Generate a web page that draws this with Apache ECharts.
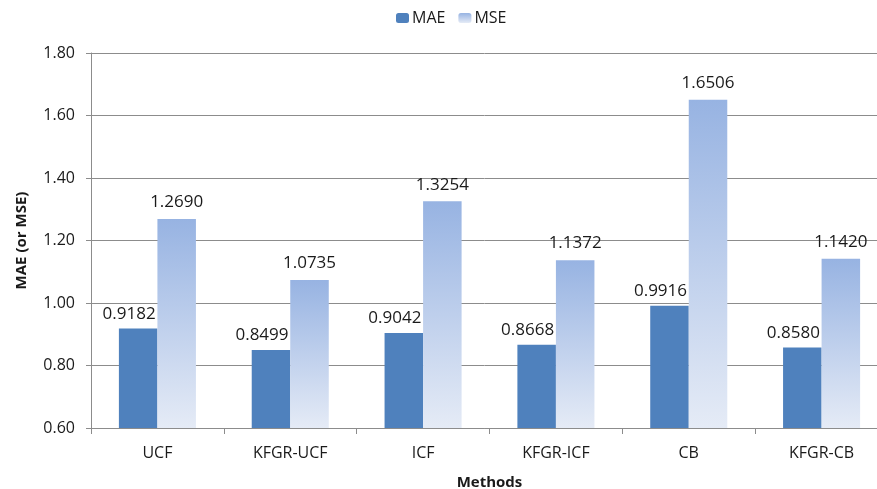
<!DOCTYPE html>
<html>
<head>
<meta charset="utf-8">
<script src="https://cdn.jsdelivr.net/npm/echarts@6/dist/echarts.min.js"></script>
<style>
  html, body { margin: 0; padding: 0; background: #fff; }
  #chart { width: 877px; height: 489px; }
</style>
</head>
<body>
<div id="chart"></div>
<script>
// Methods compared and their error scores
const methods = ['UCF', 'KFGR-UCF', 'ICF', 'KFGR-ICF', 'CB', 'KFGR-CB'];
const maeValues = [0.9182, 0.8499, 0.9042, 0.8668, 0.9916, 0.8580];
const mseValues = [1.2690, 1.0735, 1.3254, 1.1372, 1.6506, 1.1420];
const yTicks = { min: 0.6, max: 1.8, step: 0.2 };

const font = '"Open Sans", "Liberation Sans", sans-serif';
const chart = echarts.init(document.getElementById('chart'), null, { renderer: 'canvas' });

function valueLabel(offsetX, distance) {
  return {
    show: true,
    position: 'top',
    distance: distance,
    offset: [offsetX, 0],
    fontFamily: font,
    fontSize: 17,
    color: '#1a1a1a',
    formatter: p => p.value.toFixed(4)
  };
}

chart.setOption({
  animation: false,
  textStyle: { fontFamily: font },
  legend: {
    top: 5,
    left: 391,
    itemWidth: 13,
    itemHeight: 10,
    itemGap: 13,
    textStyle: { fontFamily: font, fontSize: 16, color: '#1a1a1a', padding: [0, 0, 0, -2] },
    data: ['MAE', 'MSE']
  },
  grid: {
    left: 91, right: -11, top: 53, bottom: 61,
    containLabel: false,
    outerBoundsMode: 'none'
  },
  xAxis: {
    type: 'category',
    data: methods,
    name: 'Methods',
    nameLocation: 'middle',
    nameGap: 47,
    nameTextStyle: { fontFamily: font, fontSize: 15, fontWeight: 'bold', color: '#1a1a1a' },
    axisLine: { lineStyle: { color: '#8c8c8c', width: 1 } },
    axisTick: { show: true, alignWithLabel: false, length: 6, lineStyle: { color: '#8c8c8c' } },
    axisLabel: { fontFamily: font, fontSize: 16, color: '#1a1a1a', margin: 17 }
  },
  yAxis: {
    type: 'value',
    min: yTicks.min,
    max: yTicks.max,
    interval: yTicks.step,
    name: 'MAE (or MSE)',
    nameLocation: 'middle',
    nameGap: 62,
    nameRotate: 90,
    nameTextStyle: { fontFamily: font, fontSize: 15, fontWeight: 'bold', color: '#1a1a1a' },
    axisLine: { show: true, lineStyle: { color: '#8c8c8c', width: 1 } },
    axisTick: { show: true, length: 5, lineStyle: { color: '#8c8c8c' } },
    axisLabel: { fontFamily: font, fontSize: 16, color: '#1a1a1a', margin: 16, formatter: v => v.toFixed(2) },
    splitLine: { lineStyle: { color: '#8c8c8c', width: 1 } }
  },
  series: [
    {
      name: 'MAE',
      type: 'bar',
      data: maeValues,
      barGap: '0%',
      barCategoryGap: '42%',
      itemStyle: { color: '#4f81bd' },
      label: valueLabel(-9, 6)
    },
    {
      name: 'MSE',
      type: 'bar',
      data: mseValues,
      barGap: '0%',
      barCategoryGap: '42%',
      itemStyle: {
        color: new echarts.graphic.LinearGradient(0, 0, 0, 1, [
          { offset: 0, color: '#97b3e2' },
          { offset: 1, color: '#e5ebf6' }
        ])
      },
      label: valueLabel(0, 8)
    }
  ]
});
</script>
</body>
</html>
